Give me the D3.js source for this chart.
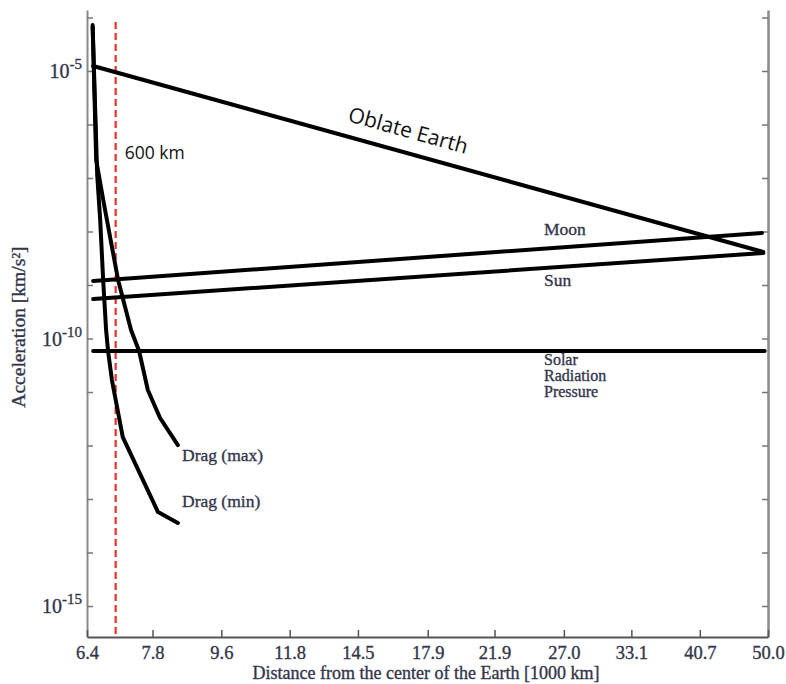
<!DOCTYPE html>
<html>
<head>
<meta charset="utf-8">
<script src="https://cdn.jsdelivr.net/npm/d3@7"></script>
<style>
  body { margin: 0; background: #fff; }
  svg { display: block; }
</style>
</head>
<body>
<svg id="chart" width="786" height="684"></svg>
<script>
// Distance from the centre of the Earth, in 1000 km (log axis)
const xTickValues = [6.4, 7.8, 9.6, 11.8, 14.5, 17.9, 21.9, 27.0, 33.1, 40.7, 50.0];
// Acceleration ticks, km/s^2 (log axis), one per decade
const yTickValues = [1e-4, 1e-5, 1e-6, 1e-7, 1e-8, 1e-9, 1e-10, 1e-11, 1e-12, 1e-13, 1e-14, 1e-15];
const yTickLabelled = [1e-5, 1e-10, 1e-15];

// Perturbing accelerations
const oblateR = [6.52, 49.3];
const oblateA = [1.24e-5, 4.14e-9];

const moonR = [6.52, 49.1];
const moonA = [1.19e-9, 9.38e-9];

const sunR = [6.52, 49.3];
const sunA = [5.47e-10, 3.96e-9];

const srpR = [6.52, 49.5];
const srpA = [5.83e-11, 5.83e-11];

const dragMaxR = [6.51, 6.58, 6.74, 7.03, 7.31, 7.49, 7.69, 7.98, 8.42];
const dragMaxA = [7.24e-5, 2.17e-7, 3.13e-8, 1.24e-9, 1.44e-10, 5.83e-11, 1.09e-11, 3.27e-12, 1.02e-12];

const dragMinR = [6.51, 6.60, 6.66, 6.72, 6.78, 6.82, 6.90, 7.13, 7.93, 8.42];
const dragMinA = [6.64e-5, 1.14e-7, 1.64e-8, 1.24e-9, 1.44e-10, 5.83e-11, 1.67e-11, 1.44e-12, 5.71e-14, 3.56e-14];

// 600 km altitude reference radius
const refRadius = [6.978];

const W = 786, H = 684;
const margin = { top: 10, right: 18, bottom: 47, left: 87 };

const svg = d3.select("#chart");

const x = d3.scaleLog()
  .domain([6.4, 50])
  .range([margin.left, W - margin.right]);

const y = d3.scaleLog()
  .domain([Math.pow(10, -15.579), Math.pow(10, -3.86)])
  .range([H - margin.bottom, margin.top]);

const serif = "'Liberation Serif', 'DejaVu Serif', serif";
const sans = "'Open Sans', 'Noto Sans', sans-serif";
const textCol = "#33364a";

// slightly heavier serif text
function ink(sel) {
  return sel.attr("fill", textCol).attr("stroke", textCol).attr("stroke-width", 0.35);
}

// ---- axes ----
const leftAxis = svg.append("g")
  .attr("transform", `translate(${margin.left},0)`)
  .call(d3.axisLeft(y).tickValues(yTickValues).tickSize(-6).tickSizeOuter(0).tickFormat(""));
leftAxis.select(".domain").attr("stroke", "#8a8a8a").attr("stroke-width", 2);
leftAxis.selectAll(".tick line").attr("stroke", "#777").attr("stroke-width", 1.5);

const rightAxis = svg.append("g")
  .attr("transform", `translate(${W - margin.right},0)`)
  .call(d3.axisRight(y).tickValues(yTickValues).tickSize(-6).tickSizeOuter(0).tickFormat(""));
rightAxis.select(".domain").attr("stroke", "#8a8a8a").attr("stroke-width", 2.5);
rightAxis.selectAll(".tick line").attr("stroke", "#777").attr("stroke-width", 1.5);

const bottomAxis = svg.append("g")
  .attr("transform", `translate(0,${H - margin.bottom})`)
  .call(d3.axisBottom(x).tickValues(xTickValues).tickSize(-7).tickSizeOuter(0).tickPadding(9)
    .tickFormat(d3.format(".1f")));
bottomAxis.select(".domain").attr("stroke", "#555").attr("stroke-width", 2);
bottomAxis.selectAll(".tick line").attr("stroke", "#555").attr("stroke-width", 1.5);
ink(bottomAxis.selectAll(".tick text")
  .attr("font-family", serif).attr("font-size", 18.5));

// y tick labels with superscript exponents
const yLab = svg.append("g");
yTickLabelled.forEach(v => {
  const t = ink(yLab.append("text")
    .attr("x", margin.left - 5)
    .attr("y", y(v) + 7)
    .attr("text-anchor", "end")
    .attr("font-family", serif));
  t.append("tspan").attr("font-size", 20).text("10");
  t.append("tspan").attr("font-size", 15).attr("dy", -9).text(String(Math.round(Math.log10(v))));
});

// axis titles
ink(svg.append("text")
  .attr("x", 426)
  .attr("y", 679)
  .attr("text-anchor", "middle")
  .attr("font-family", serif).attr("font-size", 18))
  .text("Distance from the center of the Earth [1000 km]");

ink(svg.append("text")
  .attr("transform", `translate(25,327) rotate(-90)`)
  .attr("text-anchor", "middle")
  .attr("font-family", serif).attr("font-size", 19.5))
  .text("Acceleration [km/s²]");

// ---- 600 km reference line ----
svg.selectAll(".ref")
  .data(refRadius)
  .join("line")
  .attr("class", "ref")
  .attr("x1", d => x(d)).attr("x2", d => x(d))
  .attr("y1", margin.top + 12).attr("y2", H - margin.bottom)
  .attr("stroke", "#e8302a").attr("stroke-width", 2.2)
  .attr("stroke-dasharray", "7,4");

svg.append("text")
  .attr("x", x(refRadius[0]) + 9)
  .attr("y", 159)
  .attr("font-family", sans).attr("font-size", 17.5).attr("fill", "#111")
  .text("600 km");

// ---- curves ----
const line = d3.line()
  .x(d => x(d[0]))
  .y(d => y(d[1]));

const series = [
  { r: oblateR, a: oblateA },
  { r: moonR, a: moonA },
  { r: sunR, a: sunA },
  { r: srpR, a: srpA },
  { r: dragMaxR, a: dragMaxA },
  { r: dragMinR, a: dragMinA }
];

svg.append("g").selectAll("path")
  .data(series)
  .join("path")
  .attr("d", s => line(d3.zip(s.r, s.a)))
  .attr("fill", "none")
  .attr("stroke", "#000")
  .attr("stroke-width", 4)
  .attr("stroke-linejoin", "round")
  .attr("stroke-linecap", "round");

// ---- curve labels ----
const oblateAngle = Math.atan2(y(oblateA[1]) - y(oblateA[0]), x(oblateR[1]) - x(oblateR[0])) * 180 / Math.PI;
svg.append("text")
  .attr("transform", `translate(347,121) rotate(${oblateAngle})`)
  .attr("font-family", sans).attr("font-size", 21).attr("fill", "#111")
  .text("Oblate Earth");

const labels = [
  { t: "Moon", x: 544, y: 235, s: 17.5 },
  { t: "Sun", x: 544, y: 286, s: 17.5 },
  { t: "Solar", x: 544, y: 365, s: 16 },
  { t: "Radiation", x: 544, y: 381, s: 16 },
  { t: "Pressure", x: 544, y: 397, s: 16 },
  { t: "Drag (max)", x: 182, y: 461, s: 17.5 },
  { t: "Drag (min)", x: 182, y: 507, s: 17.5 }
];
ink(svg.append("g").selectAll("text")
  .data(labels)
  .join("text")
  .attr("x", d => d.x).attr("y", d => d.y)
  .attr("font-family", serif).attr("font-size", d => d.s))
  .text(d => d.t);
</script>
</body>
</html>
